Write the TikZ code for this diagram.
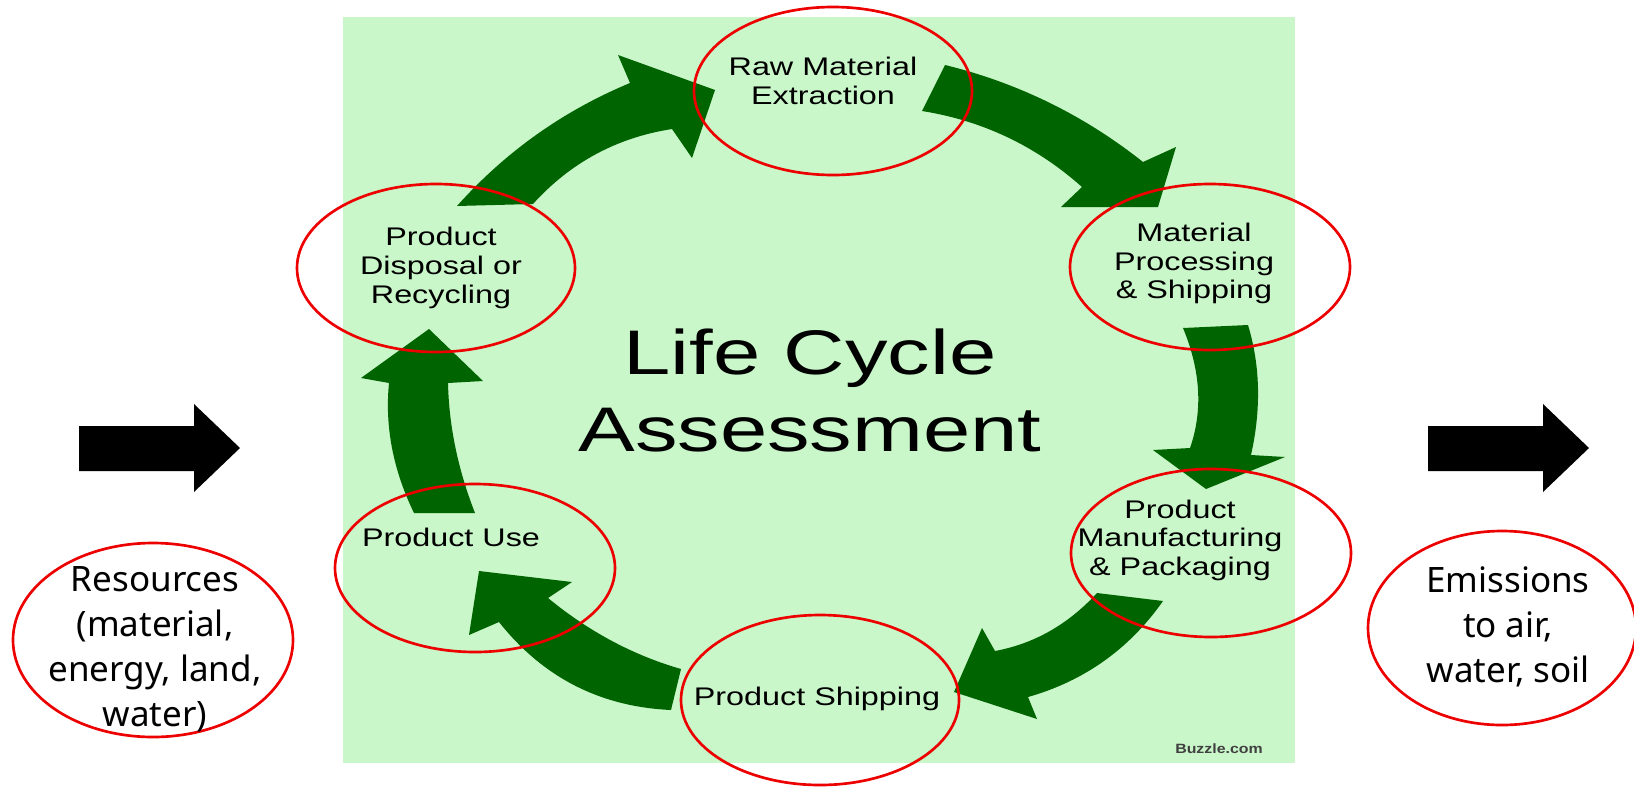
\documentclass[tikz,border=0pt]{standalone}
\usepackage{fontspec}
\usepackage{xcolor}
\usepackage{tikz}
\newfontfamily\stagefont[FakeStretch=1.27]{Liberation Sans}
\newfontfamily\titlefont[FakeStretch=1.35]{Liberation Sans}
\newfontfamily\markfont[FakeStretch=1.18]{Liberation Sans}
\newfontfamily\sidefont{Noto Sans}
\definecolor{panelgreen}{RGB}{201,247,201}
\definecolor{arrowgreen}{RGB}{0,100,0}
\definecolor{ringred}{RGB}{236,0,0}
\tikzset{
  ring/.style={draw=ringred, line width=2pt},
  cyclearrow/.style={fill=arrowgreen},
  flowarrow/.style={fill=black},
  stagetext/.style={align=center, inner sep=0pt, font=\stagefont\fontsize{19.1pt}{21.4pt}\selectfont},
  titletext/.style={align=center, inner sep=0pt, font=\titlefont\fontsize{47.25pt}{57.75pt}\selectfont},
  marktext/.style={inner sep=0pt, text=black!75, font=\markfont\bfseries\fontsize{10.1pt}{12pt}\selectfont},
  sidetext/.style={align=center, inner sep=0pt, font=\sidefont\fontsize{26.25pt}{33.75pt}\selectfont}
}

\begin{document}
\begin{tikzpicture}[x=0.75pt,y=0.75pt,yscale=-1,xscale=1]
\useasboundingbox (0,0) rectangle (1634,786);

%Shape: Rectangle [panel]
\fill[panelgreen] (343,17) rectangle (1295,763);

%Shape: Arrow [disposal to raw material]
\fill[cyclearrow] (457,206) .. controls (505.3,151.9) and (563,110.9) .. (630,83) -- (618,55) -- (715,90) -- (692,158) -- (672,129) .. controls (616.7,137.6) and (570.4,162.6) .. (533,204) -- cycle;
%Shape: Arrow [raw material to processing]
\fill[cyclearrow] (945,65) .. controls (1018.1,82.9) and (1084.1,115.3) .. (1143,162) -- (1176,147) -- (1158,207) -- (1061,207) -- (1082,187) .. controls (1036.1,146.1) and (982.8,120.7) .. (922,111) -- cycle;
%Shape: Arrow [processing to manufacturing]
\fill[cyclearrow] (1248,325) .. controls (1260.3,365.7) and (1261.3,409) .. (1251,455) -- (1285,457) -- (1206,489) -- (1153,450) -- (1190,448) .. controls (1203,410.7) and (1200.7,370.7) .. (1183,328) -- cycle;
%Shape: Arrow [manufacturing to shipping]
\fill[cyclearrow] (1163,601) .. controls (1129.3,649) and (1084.3,681) .. (1028,697) -- (1037,719) -- (954,692) -- (982,628) -- (995,651) .. controls (1034.3,643.7) and (1068.3,624.3) .. (1097,593) -- cycle;
%Shape: Arrow [shipping to use]
\fill[cyclearrow] (681,669) .. controls (633.3,655.3) and (589,631.7) .. (548,598) -- (572,582) -- (479,571) -- (469,635) -- (499,622) .. controls (543,677.5) and (600.3,706.8) .. (671,710) -- cycle;
%Shape: Arrow [use to disposal]
\fill[cyclearrow] (414,513) .. controls (393,469.7) and (384.7,426.3) .. (389,383) -- (361,378) -- (429,329) -- (483,381) -- (448,383) .. controls (449,426.3) and (458,469.7) .. (475,513) -- cycle;

%Shape: Arrow [resources in]
\fill[flowarrow] (79,426) -- (194,426) -- (194,404) -- (240,448) -- (194,492) -- (194,471) -- (79,471) -- cycle;
%Shape: Arrow [emissions out]
\fill[flowarrow] (1428,426) -- (1543,426) -- (1543,404) -- (1589,448) -- (1543,492) -- (1543,471) -- (1428,471) -- cycle;

%Shape: Ellipse [stages]
\draw[ring] (833,91) ellipse [x radius=139, y radius=84];
\draw[ring] (1210,267) ellipse [x radius=140, y radius=83];
\draw[ring] (1211,553) ellipse [x radius=140, y radius=84];
\draw[ring] (820,700) ellipse [x radius=139, y radius=85];
\draw[ring] (475,568) ellipse [x radius=140, y radius=84];
\draw[ring] (436,268) ellipse [x radius=139, y radius=84];
%Shape: Ellipse [inputs and outputs]
\draw[ring] (153,640) ellipse [x radius=140, y radius=97];
\draw[ring] (1502,628) ellipse [x radius=134, y radius=97];

% Text Node
\node[stagetext] (rawtxt) at (823,80.7) {Raw Material\\Extraction};
% Text Node
\node[stagetext] (proctxt) at (1194,263.7) {Material\\Processing\\\& Shipping};
% Text Node
\node[stagetext] (manutxt) at (1180,540.4) {Product\\Manufacturing\\\& Packaging};
% Text Node
\node[stagetext] (shiptxt) at (817,699.4) {Product Shipping};
% Text Node
\node[stagetext] (usetxt) at (451,537.7) {Product Use};
% Text Node
\node[stagetext] (disptxt) at (441,267.9) {Product\\Disposal or\\Recycling};
% Text Node
\node[titletext] (title) at (810,390.5) {Life Cycle\\Assessment};
% Text Node
\node[marktext] (mark) at (1219,749) {Buzzle.com};
% Text Node
\node[sidetext] (restxt) at (155,649) {Resources\\(material,\\energy, land,\\water)};
% Text Node
\node[sidetext] (emitxt) at (1508,627) {Emissions\\to air,\\water, soil};

\end{tikzpicture}
\end{document}
